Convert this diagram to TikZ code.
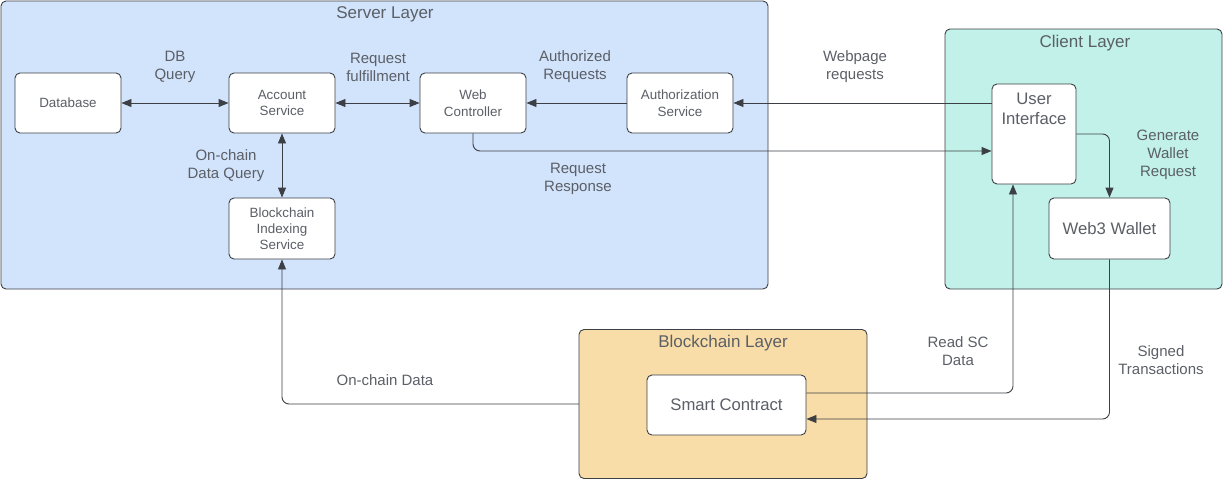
\documentclass[tikz,border=0pt]{standalone}
\usepackage{fontspec}
\setmainfont{Liberation Sans}
\usetikzlibrary{arrows.meta}
\definecolor{serverfill}{HTML}{D2E3FC}
\definecolor{clientfill}{HTML}{C1F1E9}
\definecolor{chainfill}{HTML}{F8DDA9}
\definecolor{edgecol}{HTML}{3C3F44}
\definecolor{txtcol}{HTML}{5B5F66}
\tikzset{
  layerbox/.style={draw=edgecol, line width=0.9pt, rounded corners=5pt, inner sep=0pt},
  layertitle/.style={text=txtcol, font=\fontsize{17}{20}\selectfont, inner sep=0pt},
  svcbox/.style={draw=edgecol, line width=0.9pt, fill=white, rounded corners=5pt,
    inner sep=0pt, align=center, text=txtcol, font=\fontsize{13.4}{16.5}\selectfont},
  bigbox/.style={svcbox, font=\fontsize{16.7}{20}\selectfont},
  edgelabel/.style={text=txtcol, align=center, inner sep=0pt,
    font=\fontsize{15}{18}\selectfont},
  conn/.style={draw=edgecol, line width=0.9pt, rounded corners=7pt,
    arrows={-Triangle[length=10pt,width=8pt]}},
  dconn/.style={conn, arrows={Triangle[length=10pt,width=8pt]-Triangle[length=10pt,width=8pt]}},
}
\begin{document}
\begin{tikzpicture}[x=1pt,y=-1pt]
\useasboundingbox (0,0) rectangle (1223,480);

% layer containers
\node[layerbox, fill=serverfill, minimum width=767pt, minimum height=288pt] (server) at (384.5,145) {};
\node[layertitle] (servertitle) at (385,14) {Server Layer};
\node[layerbox, fill=clientfill, minimum width=277pt, minimum height=260pt] (client) at (1083.5,159) {};
\node[layertitle] (clienttitle) at (1085,43) {Client Layer};

% server services
\node[svcbox, minimum width=106pt, minimum height=60pt] (db) at (68,103) {Database};
\node[svcbox, minimum width=106pt, minimum height=60pt] (acct) at (282,103) {Account\\Service};
\node[svcbox, minimum width=106pt, minimum height=60pt] (wc) at (473,103) {Web\\Controller};
\node[svcbox, minimum width=106pt, minimum height=60pt] (auth) at (680,103) {Authorization\\Service};
\node[svcbox, minimum width=106pt, minimum height=61pt, font=\fontsize{13.4}{16}\selectfont] (bis) at (282,228.5) {Blockchain\\Indexing\\Service};

% client components
\node[svcbox, minimum width=84pt, minimum height=100pt,
  label={[anchor=north, yshift=-9pt, align=center, text=txtcol, inner sep=0pt,
          font=\fontsize{16.7}{20}\selectfont]north:User\\Interface}] (ui) at (1034,134) {};
\node[bigbox, minimum width=121pt, minimum height=61pt] (wallet) at (1109.5,228.5) {Web3 Wallet};

% connectors
\draw[dconn] (db) -- (acct);
\draw[dconn] (acct) -- (wc);
\draw[conn] (auth) -- (wc);
\draw[conn] (ui.west |- auth.east) -- (auth);
\draw[conn] (wc.south) |- ([yshift=-17pt]ui.west);
\draw[dconn] (acct) -- (bis);
\draw[conn] (ui.east) -| (wallet.north);

% blockchain layer (drawn over the line that leaves the smart contract)
\coordinate (scleft) at (647,404);
\draw[conn] (scleft) -| (bis.south);
\node[layerbox, fill=chainfill, minimum width=288pt, minimum height=149pt] (chain) at (723,404) {};
\node[layertitle] (chaintitle) at (723,343) {Blockchain Layer};
\node[bigbox, minimum width=159pt, minimum height=60pt] (sc) at (726.5,405) {Smart Contract};

\draw[conn] ([yshift=12pt]sc.east) -| ([xshift=-21pt]ui.south);
\draw[conn] (wallet.south) |- ([yshift=-14pt]sc.east);

% connector labels
\node[edgelabel] (lbldb) at (175,67) {DB\\Query};
\node[edgelabel] (lblfulfil) at (378,67) {Request\\fulfillment};
\node[edgelabel] (lblauth) at (575,67) {Authorized\\Requests};
\node[edgelabel] (lblweb) at (855,67) {Webpage\\requests};
\node[edgelabel] (lblresp) at (578,179) {Request\\Response};
\node[edgelabel] (lblquery) at (226,166) {On-chain\\Data Query};
\node[edgelabel] (lbldata) at (385,380) {On-chain Data};
\node[edgelabel] (lblread) at (958,351) {Read SC\\Data};
\node[edgelabel] (lblsigned) at (1161,360) {Signed\\Transactions};
\node[edgelabel] (lblgen) at (1168,155) {Generate\\Wallet\\Request};
\end{tikzpicture}
\end{document}
